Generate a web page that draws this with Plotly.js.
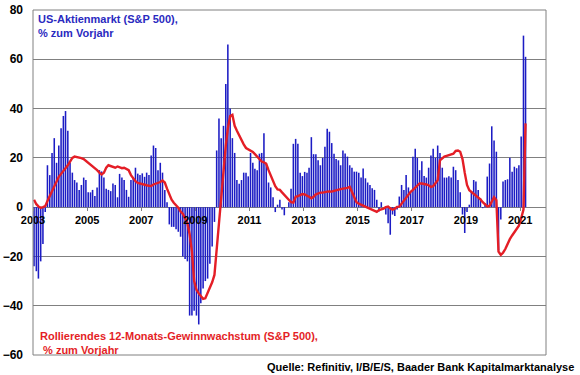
<!DOCTYPE html>
<html><head><meta charset="utf-8">
<script src="https://cdn.plot.ly/plotly-3.0.1.min.js"></script>
<style>html,body{margin:0;padding:0;background:#fff;}#chart{width:580px;height:375px;}</style>
</head><body><div id="chart"></div>
<script>
// Monthly data, starting January 2003
const startYear = 2003;

// US-Aktienmarkt (S&P 500), % zum Vorjahr
const stockYoY = [
  -24, -26, -29, -22, -15, -2, 17, 13, 22, 28, 18, 25,            // 2003
  32, 37, 39, 31, 18, 14, 11, 10, 7, 9, 12, 11,                   // 2004
  6, 6, 7, 4.5, 8, 15, 14.5, 12, 7.5, 7, 6.5, 9.6,                // 2005
  9, 4, 13.5, 12, 11, 7, 4.2, 11, 12, 16, 13.6, 13,               // 2006
  13.7, 12.3, 14, 13, 21, 25, 24, 15, 18, 14, 7, 2,               // 2007
  -7, -8, -8, -9, -10, -12, -20, -21, -22, -44, -44, -42,         // 2008
  -44, -47.6, -39, -33, -30, -29, -23, -16, -6, 23, 36, 28,       // 2009
  33, 50, 66, 40, 28, 22, 11, 9.5, 11, 14, 14, 12.5,              // 2010
  22, 18, 15.6, 15, 21.7, 22, 30, 18, 10, 8, 4, -2,               // 2011
  1, 3, -1, -3.3, 0, 2, 7.5, 25.7, 27.7, 25.7, 14, 12.6,          // 2012
  14.3, 14, 16, 28.4, 21.5, 21.5, 19, 17, 20, 24.5, 31.8, 30.6,   // 2013
  26, 21.7, 19.5, 19, 17, 23, 21.8, 20.5, 17, 16, 14.4, 14.4,     // 2014
  14, 12, 15.7, 11.7, 10, 9, 7.7, 7, 3, -1.8, 2, 0,               // 2015
  -3, -6.5, -11.2, -3, -3.6, -1, 4.3, 9, 7, 13, 8, 6,             // 2016
  20.4, 23.7, 20, 15, 18.6, 12.6, 12, 16, 21, 23.7, 20, 25,       // 2017
  22, 16, 12, 12, 12.5, 12, 16.4, 15, 11, 6, -3, -10.5,           // 2018
  -2, 1, 6.3, 11, 10.4, 7, 3.6, -0.4, 1.6, 12.4, 17.7, 32.8,      // 2019
  27, 22.5, -17.5, -5, 10.4, 11, 11.3, 20, 14.4, 16.4, 15.8, 17,  // 2020
  28.7, 69.6, 61                                                  // 2021
];

// Rollierendes 12-Monats-Gewinnwachstum (S&P 500), % zum Vorjahr
const earningsYoY = [
  3, 1.2, 0.3, -0.3, 0, 0.4, 2.5, 4.5, 6.5, 9, 11, 12.3,          // 2003
  13.5, 14.6, 15.8, 17, 18.5, 20, 20.5, 20.3, 20.2, 19.9, 19.5, 18.8, // 2004
  17.8, 17.3, 16.8, 16, 15, 14, 13.3, 14, 16, 17, 16.7, 16.3,     // 2005
  16, 16.5, 16.2, 15.8, 16, 15.5, 15, 13, 11.5, 10.5, 9.8, 9.5,   // 2006
  9.2, 9, 8.9, 8.7, 8.6, 9.2, 9.5, 9.8, 10.2, 10.8, 10, 7.5,      // 2007
  5, 3, 1.8, 0.8, -0.2, -1.8, -2.7, -4.5, -6.5, -11, -18, -30,    // 2008
  -33.5, -35, -36.2, -37.2, -37, -35, -33, -30.5, -27.5, -17, -5, 6.5, // 2009
  15, 25, 32, 37, 37.5, 33, 31, 29, 27, 25.5, 24, 23.5,           // 2010
  23, 22.4, 21.5, 20.5, 19.6, 18.5, 18.2, 17.6, 15, 13, 10.5, 8.5, // 2011
  7.2, 7, 6, 5, 4, 3, 2, 1.8, 4.2, 4.5, 4.8, 5.3,                 // 2012
  5.2, 4.8, 4.2, 3.6, 4.2, 5.2, 5.6, 5.9, 5.9, 6.2, 6.3, 6.4,     // 2013
  6.3, 6.6, 6.9, 7, 7.3, 7.5, 7.5, 7.8, 8.2, 6, 3.5, 2,           // 2014
  1.4, 1, 0.5, 0.1, -0.4, -0.7, -1.2, -1.5, -1.9, -1.2, -1, -0.6, // 2015
  0, 0.2, -0.5, -1, -0.6, 0.1, 0.2, 1.5, 2.8, 4, 5.2, 6.2,        // 2016
  7, 8, 9, 9.6, 9.6, 9.5, 9.2, 8.9, 8.2, 8.5, 9.6, 10.9,          // 2017
  19, 20, 20.5, 20.8, 21, 21.4, 21.7, 22.8, 23, 22.5, 19.5, 14,   // 2018
  9, 6.9, 6.2, 5.5, 4.8, 4.2, 3.2, 2, 1.2, 0.3, 0.5, 2.5,         // 2019
  4, 2.8, -18, -19.4, -18.5, -17, -14.7, -13, -11.5, -10, -8.8, -7.5, // 2020
  -4.5, -1, 34                                                    // 2021
];

const tickYears = ['2003','2005','2007','2009','2011','2013','2015','2017','2019','2021'];
const yTicks = [-60, -40, -20, 0, 20, 40, 60, 80];

function monthDates(n) {
  const out = [];
  for (let i = 0; i < n; i++) {
    const y = startYear + Math.floor(i / 12);
    const m = (i % 12) + 1;
    out.push(y + '-' + String(m).padStart(2, '0') + '-15');
  }
  return out;
}

const FONT = 'Liberation Sans, Arial, sans-serif';
const L = 33, R = 546, T = 10, B = 355;
const PW = R - L, PH = B - T;
const px = x => (x - L) / PW;
const py = y => (B - y) / PH;

const traces = [
  {
    type: 'bar',
    x: monthDates(stockYoY.length),
    y: stockYoY,
    marker: {color: '#1c1cc4', line: {width: 0}},
    hoverinfo: 'skip'
  },
  {
    type: 'scatter', mode: 'lines',
    x: monthDates(earningsYoY.length),
    y: earningsYoY,
    line: {color: '#e41e26', width: 2.4},
    hoverinfo: 'skip'
  }
];

const layout = {
  width: 580, height: 375,
  margin: {l: L, r: 580 - R, t: T, b: 375 - B, pad: 0},
  paper_bgcolor: '#ffffff', plot_bgcolor: '#ffffff',
  showlegend: false,
  bargap: 0.25,
  xaxis: {
    type: 'date',
    range: ['2003-01-01', '2021-12-16'],
    tickvals: tickYears.map(y => y + '-01-01'),
    ticktext: tickYears,
    anchor: 'free', position: 60 / 140,
    showgrid: false, zeroline: false, showline: false,
    ticks: 'outside', ticklen: 3, tickcolor: '#808080', tickwidth: 1,
    tickfont: {family: FONT, size: 11, color: '#000', weight: 'bold'}
  },
  yaxis: {
    range: [-60, 80],
    tickvals: yTicks,
    showgrid: true, gridcolor: '#808080', gridwidth: 1,
    zeroline: false, showline: false, ticks: '',
    ticklabelstandoff: 9,
    tickfont: {family: FONT, size: 12, color: '#000', weight: 'bold'}
  },
  shapes: [
    {type: 'rect', xref: 'paper', yref: 'paper', x0: 0, x1: 1, y0: 0, y1: 1,
     line: {color: '#808080', width: 1}, layer: 'above'}
  ],
  annotations: [
    {text: '<b>US-Aktienmarkt (S&P 500),<br>% zum Vorjahr</b>', xref: 'paper', yref: 'paper',
     x: px(36), y: py(11), xanchor: 'left', yanchor: 'top', align: 'left', showarrow: false,
     font: {family: FONT, size: 11, color: '#2a2abf'}},
    {text: '<b>Rollierendes 12-Monats-Gewinnwachstum (S&P 500),<br> % zum Vorjahr</b>', xref: 'paper', yref: 'paper',
     x: px(38), y: py(328), xanchor: 'left', yanchor: 'top', align: 'left', showarrow: false,
     font: {family: FONT, size: 11, color: '#e41e26'}},
    {text: '<b>Quelle: Refinitiv, I/B/E/S, Baader Bank Kapitalmarktanalyse</b>', xref: 'paper', yref: 'paper',
     x: px(576), y: py(367), xanchor: 'right', yanchor: 'middle', showarrow: false,
     font: {family: FONT, size: 11, color: '#000'}}
  ]
};

Plotly.newPlot('chart', traces, layout, {displayModeBar: false, staticPlot: true});
</script>
</body></html>
